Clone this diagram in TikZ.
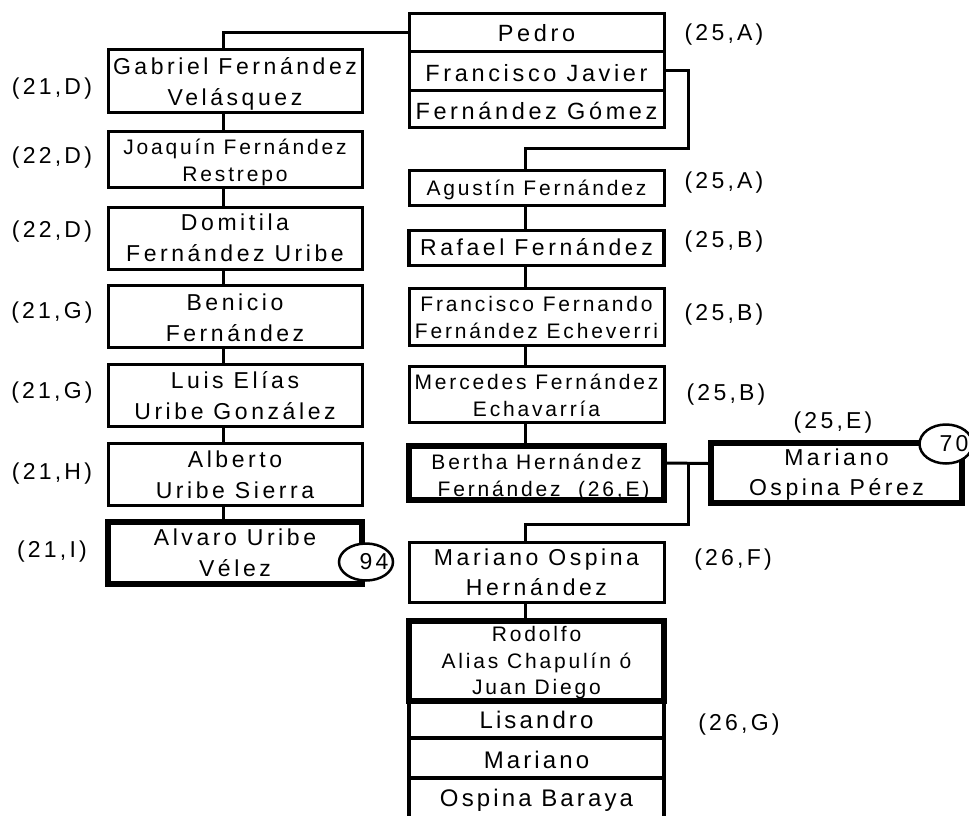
\documentclass[tikz,border=0pt]{standalone}
\usepackage{fontspec}
\setmainfont{Liberation Sans}
\newfontfamily\fA[LetterSpace=15.5]{Liberation Sans}
\newfontfamily\fB[LetterSpace=13.5]{Liberation Sans}
\newfontfamily\fC[LetterSpace=13]{Liberation Sans}
\newfontfamily\fD[LetterSpace=14]{Liberation Sans}
\usetikzlibrary{shapes.geometric}
\newcommand\bxt[2][0pt]{\raisebox{-#1}[\height][\depth]{\begin{tabular}{@{}c@{}}#2\end{tabular}}}
\begin{document}
\begin{tikzpicture}[x=1pt,y=-1pt,
  box/.style={draw, line width=3pt, rectangle, inner sep=0pt, align=center, fill=white},
  tbox/.style={box, line width=6pt},
  big/.style={font=\fA\fontsize{23}{31}\selectfont},
  mid/.style={font=\fA\fontsize{23}{30}\selectfont},
  sml/.style={font=\fB\fontsize{21}{27}\selectfont},
  stk/.style={font=\fC\fontsize{24}{28}\selectfont},
  top/.style={font=\fA\fontsize{23.5}{28}\selectfont},
  lbl/.style={font=\fD\fontsize{23}{28}\selectfont, inner sep=0pt, anchor=base},
  conn/.style={line width=3pt},
  oval/.style={draw, ellipse, line width=2.5pt, fill=white, inner sep=0pt},
  lw/.style={minimum width=254pt},
  rw/.style={minimum width=255pt}
]
\fill[white] (0,0) rectangle (969,816);
\useasboundingbox (0,0) rectangle (969,816);

% left column
\node[box,big,lw,minimum height=55pt] (gab) at (235,81) {\bxt[3pt]{Gabriel Fernández\\Velásquez}};
\node[box,sml,lw,minimum height=56pt] (joa) at (235,159.5) {\bxt[3pt]{Joaquín Fernández\\Restrepo}};
\node[box,big,lw,minimum height=56pt] (dom) at (235,238.5) {\bxt[1.5pt]{Domitila\\Fernández Uribe}};
\node[box,big,lw,minimum height=56pt] (ben) at (235,316.5) {\bxt[3pt]{Benicio\\Fernández}};
\node[box,big,lw,minimum height=56pt] (lui) at (235,395.5) {\bxt[2.5pt]{Luis Elías\\Uribe González}};
\node[box,big,lw,minimum height=57pt] (alb) at (235,474) {\bxt[2.5pt]{Alberto\\Uribe Sierra}};
\node[tbox,big,lw,minimum height=53pt] (alv) at (235,552.5) {\bxt[2pt]{Alvaro Uribe\\Vélez}};
\node[oval,minimum width=54pt,minimum height=37pt] (e94) at (366,562) {};
\node[lbl,anchor=center] (n94) at (374,562) {94};

% right column
\node[box,top,rw,minimum height=38.5pt] (pedro) at (536.5,32.75) {\bxt[3.4pt]{Pedro}};
\node[box,top,rw,minimum height=38pt] (fjav) at (536.5,71) {\bxt[5pt]{Francisco Javier}};
\node[box,top,rw,minimum height=37.5pt] (fgom) at (536.5,108.75) {\bxt[5.5pt]{Fernández Gómez}};
\node[box,sml,rw,minimum height=35pt] (agus) at (536.5,188) {\bxt[1.6pt]{Agustín Fernández}};
\node[box,mid,rw,minimum height=35pt,line width=3.5pt] (rafa) at (536.5,248) {\bxt[1pt]{Rafael Fernández}};
\node[box,sml,rw,minimum height=57pt] (ffer) at (536.5,317) {\bxt[3pt]{Francisco Fernando\\Fernández Echeverri}};
\node[box,sml,rw,minimum height=56pt] (merc) at (536.5,394.5) {\bxt[3.5pt]{Mercedes Fernández\\Echavarría}};
\node[tbox,sml,rw,minimum height=53pt] (bert) at (536.5,472.5) {\bxt[5pt]{Bertha Hernández\\\hspace*{14pt}Fernández~~(26,E)}};
\node[tbox,mid,minimum width=251pt,minimum height=54pt] (mop) at (836.5,473) {\bxt[1pt]{Mariano\\Ospina Pérez}};
\node[oval,minimum width=53pt,minimum height=39pt] (e70) at (946,444) {};
\node[lbl,anchor=center] (n70) at (954,444) {70};
\node[box,mid,rw,minimum height=57pt] (mosp) at (536.5,572) {\bxt[2pt]{Mariano Ospina\\Hernández}};
\node[box,stk,rw,minimum height=39pt,line width=4pt] (lisa) at (536.5,718.5) {\bxt[4pt]{Lisandro}};
\node[box,stk,rw,minimum height=40pt,line width=4pt] (mari) at (536.5,758) {\bxt[4.7pt]{Mariano}};
\node[box,stk,rw,minimum height=42pt,line width=4pt] (obar) at (536.5,799) {\bxt[2pt]{Ospina Baraya}};
\node[tbox,rw,minimum height=76pt,font=\fB\fontsize{21}{26.5}\selectfont] (rodo) at (536.5,661) {\bxt[2pt]{Rodolfo\\Alias Chapulín ó\\Juan Diego}};

% connectors
\draw[conn] (pedro.west) -| ([xshift=-12pt]gab.north);
\foreach \a/\b in {gab/joa,joa/dom,dom/ben,ben/lui,lui/alb,alb/alv}
  \draw[conn] ([xshift=-12pt]\a.south) -- ([xshift=-12pt]\b.north);
\coordinate (j1) at (688,148);
\draw[conn] (fjav.east) -| (j1) -| ([xshift=-11.5pt]agus.north);
\foreach \a/\b in {agus/rafa,rafa/ffer,ffer/merc,merc/bert,mosp/rodo}
  \draw[conn] ([xshift=-11.5pt]\a.south) -- ([xshift=-11.5pt]\b.north);
\path ([yshift=9.5pt]bert.east) coordinate (bE);
\draw[conn] (bE) -- ([yshift=9.5pt]mop.west);
\coordinate (j2) at (688,524);
\draw[conn] (j2 |- bE) -- (j2) -| ([xshift=-11.5pt]mosp.north);

% labels
\node[lbl] (l1) at (724,41) {(25,A)};
\node[lbl] (l2) at (724,188) {(25,A)};
\node[lbl] (l3) at (724,247) {(25,B)};
\node[lbl] (l4) at (724,320) {(25,B)};
\node[lbl] (l5) at (726,400) {(25,B)};
\node[lbl] (l6) at (833,428) {(25,E)};
\node[lbl] (l7) at (733,565) {(26,F)};
\node[lbl] (l8) at (739,730) {(26,G)};
\node[lbl] (r1) at (52,95) {(21,D)};
\node[lbl] (r2) at (52,163) {(22,D)};
\node[lbl] (r3) at (52,237) {(22,D)};
\node[lbl] (r4) at (52,318) {(21,G)};
\node[lbl] (r5) at (52,398) {(21,G)};
\node[lbl] (r6) at (52,479) {(21,H)};
\node[lbl] (r7) at (52,557) {(21,I)};
\end{tikzpicture}
\end{document}
